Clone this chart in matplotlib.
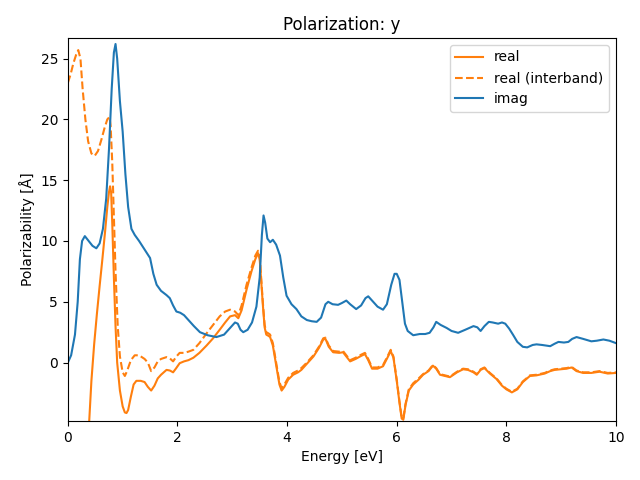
import matplotlib
matplotlib.use("Agg")
import matplotlib.pyplot as plt

# imag part
imag_x = [0.00, 0.06, 0.13, 0.18, 0.22, 0.26, 0.31, 0.38, 0.45, 0.52, 0.58, 0.64, 0.70, 0.75, 0.80,
          0.84, 0.87, 0.90, 0.95, 1.00, 1.05, 1.10, 1.16, 1.22, 1.30, 1.40, 1.50, 1.56, 1.62, 1.70,
          1.80, 1.86, 1.92, 1.98, 2.05, 2.12, 2.20, 2.30, 2.41, 2.55, 2.71, 2.85, 2.95, 3.05, 3.10,
          3.15, 3.20, 3.28, 3.36, 3.44, 3.50, 3.54, 3.57, 3.60, 3.64, 3.69, 3.74, 3.80, 3.87, 3.93,
          3.99, 4.08, 4.17, 4.26, 4.36, 4.45, 4.54, 4.62, 4.70, 4.75, 4.83, 4.93, 5.00, 5.08, 5.15,
          5.26, 5.35, 5.43, 5.48, 5.55, 5.65, 5.75, 5.82, 5.90, 5.96, 6.00, 6.05, 6.10, 6.15, 6.20,
          6.30, 6.42, 6.52, 6.60, 6.67, 6.72, 6.80, 6.91, 7.00, 7.12, 7.25, 7.40, 7.47, 7.53, 7.60,
          7.68, 7.75, 7.85, 7.92, 7.98, 8.05, 8.12, 8.20, 8.30, 8.38, 8.48, 8.55, 8.65, 8.80, 8.88,
          8.95, 9.05, 9.13, 9.20, 9.28, 9.40, 9.55, 9.65, 9.77, 9.88, 10.0]
imag_y = [0.0, 0.6, 2.3, 5.0, 8.5, 10.0, 10.4, 10.0, 9.6, 9.4, 9.8, 11.0, 13.5, 17.5, 22.5,
          25.5, 26.2, 25.0, 21.5, 19.0, 15.5, 12.8, 11.0, 10.5, 10.0, 9.3, 8.6, 7.3, 6.4, 5.9,
          5.55, 5.3, 4.7, 4.2, 4.1, 3.9, 3.5, 3.0, 2.5, 2.25, 2.1, 2.3, 2.8, 3.3, 3.2,
          2.7, 2.5, 2.7, 3.3, 4.6, 7.0, 10.5, 12.1, 11.5, 10.2, 9.9, 10.1, 9.7, 8.8, 7.0,
          5.5, 4.8, 4.4, 3.8, 3.5, 3.4, 3.35, 3.7, 4.8, 5.0, 4.8, 4.75, 4.9, 5.1, 4.8,
          4.4, 4.7, 5.3, 5.45, 5.1, 4.6, 4.35, 4.8, 6.4, 7.3, 7.3, 6.8, 5.0, 3.2, 2.6,
          2.25, 2.35, 2.35, 2.45, 2.9, 3.35, 3.1, 2.85, 2.6, 2.45, 2.7, 3.0, 2.9, 2.6, 3.0,
          3.35, 3.3, 3.2, 3.3, 3.2, 2.8, 2.3, 1.7, 1.3, 1.25, 1.45, 1.5, 1.45, 1.35, 1.55,
          1.7, 1.65, 1.7, 1.95, 2.1, 1.95, 1.75, 1.8, 1.9, 1.8, 1.6]

# real part (total)
real_x = [0.30, 0.35, 0.39, 0.43, 0.48, 0.53, 0.58, 0.63, 0.68, 0.72, 0.75, 0.77, 0.79, 0.81, 0.84,
          0.87, 0.90, 0.95, 1.00, 1.04, 1.07, 1.10, 1.15, 1.20, 1.25, 1.33, 1.40, 1.46, 1.52, 1.58,
          1.64, 1.70, 1.80, 1.86, 1.92, 1.97, 2.04, 2.12, 2.20, 2.29, 2.40, 2.53, 2.65, 2.77, 2.87,
          2.96, 3.05, 3.11, 3.17, 3.26, 3.35, 3.42, 3.47, 3.50, 3.53, 3.56, 3.59, 3.62, 3.66, 3.69,
          3.74, 3.80, 3.86, 3.90, 3.95, 4.02, 4.11, 4.20, 4.26, 4.36, 4.48, 4.58, 4.66, 4.70, 4.76,
          4.84, 4.95, 5.02, 5.08, 5.15, 5.25, 5.35, 5.42, 5.48, 5.55, 5.65, 5.75, 5.83, 5.89, 5.94,
          6.00, 6.05, 6.09, 6.12, 6.16, 6.22, 6.30, 6.40, 6.48, 6.58, 6.66, 6.72, 6.79, 6.88, 6.97,
          7.10, 7.21, 7.30, 7.40, 7.46, 7.53, 7.60, 7.70, 7.82, 7.92, 8.00, 8.10, 8.20, 8.30, 8.43,
          8.55, 8.70, 8.80, 8.88, 9.00, 9.10, 9.19, 9.28, 9.40, 9.55, 9.70, 9.85, 10.0]
real_y = [-20.0, -9.0, -4.8, -1.5, 1.5, 4.0, 6.3, 8.5, 10.8, 12.8, 14.0, 14.5, 14.0, 11.5, 7.0,
          3.0, 0.0, -2.3, -3.6, -4.1, -4.15, -3.9, -2.8, -1.8, -1.5, -1.5, -1.6, -2.0, -2.3, -1.9,
          -1.3, -1.0, -0.6, -0.65, -0.8, -0.5, -0.05, 0.1, 0.2, 0.4, 0.8, 1.4, 2.0, 2.7, 3.3,
          3.8, 3.9, 3.65, 4.3, 6.0, 7.5, 8.5, 9.0, 8.5, 6.5, 4.6, 2.9, 2.3, 2.2, 2.1,
          1.4, -0.2, -1.8, -2.3, -2.0, -1.4, -1.0, -0.8, -0.6, -0.1, 0.5, 1.2, 1.9, 1.95, 1.3,
          0.85, 0.8, 0.85, 0.5, 0.1, 0.3, 0.55, 0.7, 0.2, -0.5, -0.5, -0.3, 0.4, 0.95, 0.4,
          -1.5, -3.3, -4.6, -4.7, -3.5, -2.3, -1.8, -1.4, -1.0, -0.7, -0.25, -0.5, -1.0, -1.1, -1.2,
          -0.8, -0.55, -0.6, -0.8, -1.0, -0.6, -0.45, -0.9, -1.35, -1.9, -2.2, -2.45, -2.2, -1.6, -1.1,
          -1.05, -0.9, -0.7, -0.6, -0.55, -0.5, -0.4, -0.7, -0.85, -0.85, -0.75, -0.9, -0.85]

# real part, interband only
inter_x = [0.00, 0.05, 0.10, 0.15, 0.19, 0.23, 0.27, 0.32, 0.37, 0.43, 0.49, 0.55, 0.61, 0.67, 0.72,
           0.76, 0.78, 0.81, 0.84, 0.87, 0.91, 0.95, 1.00, 1.04, 1.08, 1.15, 1.22, 1.30, 1.40, 1.46,
           1.52, 1.58, 1.64, 1.70, 1.80, 1.86, 1.92, 1.98, 2.04, 2.12, 2.20, 2.29, 2.40, 2.53, 2.65,
           2.77, 2.87, 2.96, 3.05, 3.11, 3.17, 3.26, 3.35, 3.42, 3.47, 3.50, 3.53, 3.56, 3.59, 3.62,
           3.66, 3.69, 3.74, 3.80, 3.86, 3.90, 3.95, 4.02, 4.11, 4.20, 4.26, 4.36, 4.48, 4.58, 4.66,
           4.70, 4.76, 4.84, 4.95, 5.02, 5.08, 5.15, 5.25, 5.35, 5.42, 5.48, 5.55, 5.65, 5.75, 5.83,
           5.89, 5.94, 6.00, 6.05, 6.09, 6.12, 6.16, 6.22, 6.30, 6.40, 6.48, 6.58, 6.66, 6.72, 6.79,
           6.88, 6.97, 7.10, 7.21, 7.30, 7.40, 7.46, 7.53, 7.60, 7.70, 7.82, 7.92, 8.00, 8.10, 8.20,
           8.30, 8.43, 8.55, 8.70, 8.80, 8.88, 9.00, 9.10, 9.19, 9.28, 9.40, 9.55, 9.70, 9.85, 10.0]
inter_y = [23.0, 23.7, 24.6, 25.3, 25.7, 25.0, 22.5, 20.0, 18.2, 17.2, 17.0, 17.4, 18.3, 19.3, 20.0,
           20.2, 19.5, 16.5, 12.0, 7.5, 3.0, 0.5, -0.8, -1.1, -0.7, 0.2, 0.6, 0.6, 0.3, 0.0,
           -0.7, -0.4, 0.1, 0.3, 0.45, 0.35, 0.1, 0.5, 0.8, 0.8, 0.9, 1.05, 1.6, 2.4, 3.1,
           3.8, 4.2, 4.35, 4.2, 3.9, 4.7, 6.4, 7.8, 8.8, 9.2, 8.7, 6.7, 4.8, 3.1, 2.5,
           2.4, 2.3, 1.6, 0.0, -1.6, -2.1, -1.8, -1.25, -0.85, -0.65, -0.45, 0.0, 0.6, 1.3, 2.0,
           2.05, 1.4, 0.95, 0.9, 0.95, 0.6, 0.2, 0.4, 0.65, 0.8, 0.3, -0.4, -0.4, -0.2, 0.5,
           1.05, 0.5, -1.4, -3.2, -4.5, -4.6, -3.4, -2.2, -1.7, -1.3, -0.95, -0.65, -0.2, -0.45, -0.95,
           -1.05, -1.15, -0.75, -0.5, -0.55, -0.75, -0.95, -0.55, -0.4, -0.85, -1.3, -1.85, -2.15, -2.4, -2.15,
           -1.55, -1.05, -1.0, -0.85, -0.65, -0.55, -0.5, -0.45, -0.35, -0.65, -0.8, -0.8, -0.7, -0.85, -0.8]

fig, ax = plt.subplots(figsize=(6.4, 4.8), dpi=100)
ax.plot(real_x, real_y, color='C1', label='real')
ax.plot(inter_x, inter_y, color='C1', linestyle='--', label='real (interband)')
ax.plot(imag_x, imag_y, color='C0', label='imag')

ax.set_xlim(0, 10)
ax.set_ylim(-4.8, 26.7)
ax.set_title('Polarization: y')
ax.set_xlabel('Energy [eV]')
ax.set_ylabel('Polarizability [Å]')
ax.legend(loc='upper right')
fig.subplots_adjust(left=0.106, right=0.9625, top=0.921, bottom=0.123)
plt.savefig('out.png')
